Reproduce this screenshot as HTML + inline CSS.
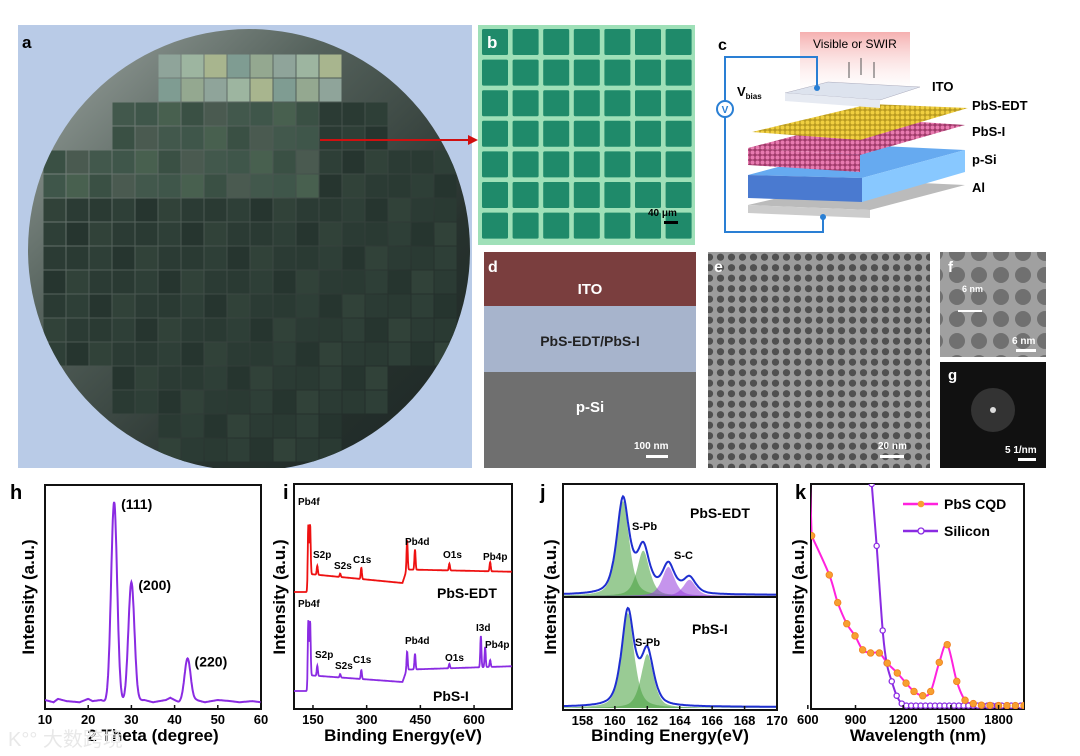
<!DOCTYPE html>
<html><head><meta charset="utf-8"><style>
body{margin:0;background:#fff;}
svg{display:block;font-family:"Liberation Sans",Arial,sans-serif;}
.b{font-weight:bold;}
</style></head><body>
<svg id="fig" width="1080" height="756" viewBox="0 0 1080 756">
<defs>
<clipPath id="wclip"><circle cx="249" cy="250" r="221"/></clipPath>
<linearGradient id="wgrad" x1="0" y1="0" x2="1" y2="1"><stop offset="0" stop-color="#a4aca8"/><stop offset="0.35" stop-color="#55625c"/><stop offset="0.7" stop-color="#27322e"/><stop offset="1" stop-color="#1c2624"/></linearGradient>
<pattern id="dots" width="11" height="10.5" patternUnits="userSpaceOnUse"><rect width="11" height="10.5" fill="#9c9c9c"/><circle cx="5.5" cy="5.2" r="3.6" fill="#505050"/></pattern>
<pattern id="dots2" width="22" height="22" patternUnits="userSpaceOnUse"><rect width="22" height="22" fill="#a0a0a0"/><circle cx="11" cy="11" r="8" fill="#707070"/></pattern>
<pattern id="qd1" width="5" height="5" patternUnits="userSpaceOnUse"><rect width="5" height="5" fill="#b89a20"/><circle cx="2.5" cy="2.5" r="2" fill="#f0cf40"/></pattern>
<pattern id="qd2" width="5" height="5" patternUnits="userSpaceOnUse"><rect width="5" height="5" fill="#a03a6a"/><circle cx="2.5" cy="2.5" r="2" fill="#e87ab0"/></pattern>
<linearGradient id="light" x1="0" y1="0" x2="0" y2="1"><stop offset="0" stop-color="#f5b0b0"/><stop offset="1" stop-color="#fde8e8" stop-opacity="0"/></linearGradient>
<clipPath id="ch"><rect x="45" y="485" width="216" height="224"/></clipPath>
<clipPath id="ck"><rect x="811" y="484" width="213" height="225"/></clipPath>
</defs>

<!-- panel a -->
<g>
<rect x="18" y="25" width="454" height="443" fill="#b9cbe7"/>
<g clip-path="url(#wclip)">
<rect x="20" y="25" width="460" height="443" fill="url(#wgrad)"/>
<g id="wgrid"></g>
</g>
<line x1="320" y1="140" x2="470" y2="140" stroke="#d01010" stroke-width="2"/>
<polygon points="478,140 468,135 468,145" fill="#d01010"/>
<text x="22" y="48" class="b" font-size="17">a</text>
</g>

<!-- panel b -->
<g>
<rect x="478" y="25" width="217" height="220" fill="#9fe0b8"/>
<g id="bgrid"></g>
<text x="487" y="48" class="b" font-size="17" fill="#fff">b</text>
<text x="648" y="216" font-size="10" class="b">40 μm</text>
<rect x="664" y="221" width="14" height="3" fill="#000"/>
</g>

<!-- panel c -->
<g>
<rect x="800" y="32" width="110" height="60" fill="url(#light)"/>
<text x="718" y="50" class="b" font-size="16">c</text>
<text x="813" y="48" font-size="12">Visible or SWIR</text>
<g stroke="#555" stroke-width="1"><line x1="849" y1="62" x2="849" y2="78"/><line x1="861" y1="58" x2="861" y2="75"/><line x1="874" y1="62" x2="874" y2="78"/></g>
<polygon points="748,205 870,210 965,185 855,180" fill="#bbb"/><polygon points="748,205 870,210 870,218 748,213" fill="#ccc"/>
<polygon points="748,175 862,178 965,150 860,145" fill="#66aaf0"/><polygon points="748,175 862,178 862,202 748,198" fill="#4a7ad0"/><polygon points="862,178 965,150 965,172 862,202" fill="#88c8ff"/>
<polygon points="748,148 860,155 965,125 862,118" fill="url(#qd2)"/><polygon points="748,148 860,155 860,172 748,165" fill="url(#qd2)"/>
<polygon points="752,132 860,140 968,108 870,104" fill="url(#qd1)"/>
<polygon points="785,93 880,100 920,87 828,82" fill="#dde3ee" stroke="#aab" stroke-width="0.5"/><polygon points="785,93 880,100 880,108 785,101" fill="#e6eaf2"/>
<g fill="none" stroke="#2a7fd4" stroke-width="2"><polyline points="817,88 817,57 725,57 725,232 823,232 823,218"/></g>
<circle cx="817" cy="88" r="3" fill="#2a7fd4"/><circle cx="823" cy="217" r="3" fill="#2a7fd4"/>
<circle cx="725" cy="109" r="8" fill="#fff" stroke="#2a7fd4" stroke-width="2"/>
<text x="725" y="113" text-anchor="middle" font-size="10" fill="#2a7fd4" class="b">V</text>
<text x="737" y="96" class="b" font-size="13">V<tspan font-size="8" dy="3">bias</tspan></text>
<text x="932" y="91" class="b" font-size="13">ITO</text>
<text x="972" y="110" class="b" font-size="13">PbS-EDT</text>
<text x="972" y="136" class="b" font-size="13">PbS-I</text>
<text x="972" y="164" class="b" font-size="13">p-Si</text>
<text x="972" y="192" class="b" font-size="13">Al</text>
</g>

<!-- panel d -->
<g>
<rect x="484" y="252" width="212" height="216" fill="#6f6f6f"/>
<rect x="484" y="252" width="212" height="56" fill="#7a3e3e"/>
<rect x="484" y="306" width="212" height="66" fill="#a7b4cc"/>
<text x="488" y="272" class="b" font-size="16" fill="#fff">d</text>
<text x="590" y="294" text-anchor="middle" class="b" font-size="15" fill="#fff">ITO</text>
<text x="590" y="346" text-anchor="middle" class="b" font-size="14" fill="#222">PbS-EDT/PbS-I</text>
<text x="590" y="412" text-anchor="middle" class="b" font-size="15" fill="#fff">p-Si</text>
<text x="634" y="449" class="b" font-size="10" fill="#fff">100 nm</text>
<rect x="646" y="455" width="22" height="3" fill="#fff"/>
</g>

<!-- panel e -->
<g>
<rect x="708" y="252" width="222" height="216" fill="url(#dots)"/>
<text x="714" y="272" class="b" font-size="16" fill="#fff">e</text>
<text x="878" y="449" class="b" font-size="10" fill="#fff">20 nm</text>
<rect x="880" y="455" width="24" height="3" fill="#fff"/>
</g>
<g>
<rect x="940" y="252" width="106" height="105" fill="url(#dots2)"/>
<text x="948" y="272" class="b" font-size="15" fill="#fff">f</text>
<text x="962" y="292" font-size="9" fill="#fff" class="b">6 nm</text>
<line x1="958" y1="311" x2="982" y2="311" stroke="#fff" stroke-width="2"/>
<text x="1012" y="344" class="b" font-size="10" fill="#fff">6 nm</text>
<rect x="1016" y="349" width="20" height="3" fill="#fff"/>
</g>
<g>
<rect x="940" y="362" width="106" height="106" fill="#111"/>
<circle cx="993" cy="410" r="22" fill="#333"/><circle cx="993" cy="410" r="3" fill="#ddd"/>
<text x="948" y="380" class="b" font-size="15" fill="#fff">g</text>
<text x="1005" y="453" class="b" font-size="10" fill="#fff">5 1/nm</text>
<rect x="1018" y="458" width="18" height="3" fill="#fff"/>
</g>

<g id="charts"></g>
</svg>
<script>
// ===== data: h (XRD) =====
const hTicks=[10,20,30,40,50,60];
const xrdPeakPos=[26,30,43];
const xrdPeakHeight=[0.89,0.53,0.19];
const xrdPeakLabels=['(111)','(200)','(220)'];
const xrdNoiseX=[10,12,13,15,18,20,21,23,24,28,33,35,38,39,41,45,47,50,53,55,58,60];
const xrdNoiseY=[0.04,0.03,0.045,0.035,0.03,0.045,0.035,0.04,0.03,0.03,0.04,0.03,0.04,0.05,0.03,0.04,0.03,0.04,0.035,0.03,0.035,0.03];
// ===== data: i (XPS survey) =====
const iTicks=[150,300,450,600];
const edtBgX=[97,134,140,400,412,706];
const edtBgY=[52,52,60,56,62,61];
const edtPeakPos=[137,142,162,226,285,413,435,531,645];
const edtPeakAmp=[26,22,4,1.5,5,13,9,3,4];
const iBgX=[97,134,140,400,412,706];
const iBgY=[8,8,15,12,17.5,19];
const iPeakPos=[137,142,162,226,285,413,435,531,619,631,645];
const iPeakAmp=[28,24,4.5,1.5,4,8,7,2,14,9,3];
const edtLabels=['Pb4f','S2p','S2s','C1s','Pb4d','O1s','Pb4p'];
const iLabels=['Pb4f','S2p','S2s','C1s','Pb4d','O1s','I3d','Pb4p'];
// ===== data: j (S 2p) =====
const jTicks=[158,160,162,164,166,168,170];
const jEdtGreenPos=[160.5,161.75];
const jEdtGreenAmp=[0.88,0.42];
const jEdtPurplePos=[163.3,164.6];
const jEdtPurpleAmp=[0.27,0.15];
const jIGreenPos=[160.8,162.0];
const jIGreenAmp=[0.88,0.5];
// ===== data: k (absorption) =====
const kTicks=[600,900,1200,1500,1800];
const cqdWl=[624,735,788,845,897,945,995,1050,1100,1163,1218,1268,1323,1373,1427,1477,1537,1589,1641,1692,1746,1800,1853,1906,1960];
const cqdVal=[0.77,0.596,0.473,0.379,0.325,0.263,0.249,0.249,0.204,0.16,0.115,0.078,0.059,0.078,0.207,0.286,0.123,0.039,0.024,0.017,0.016,0.015,0.015,0.015,0.015];
const siWl=[1002,1033,1071,1096,1128,1159,1191,1220,1250,1280,1310,1340,1370,1400,1430,1460,1490,1520,1550,1580,1610,1640,1670,1700,1730,1760,1790,1820,1850,1880,1910,1940,1960];
const siVal=[1.0,0.725,0.349,0.204,0.123,0.059,0.024,0.015,0.015,0.015,0.015,0.015,0.015,0.015,0.015,0.015,0.015,0.015,0.015,0.015,0.015,0.015,0.015,0.015,0.015,0.015,0.015,0.015,0.015,0.015,0.015,0.015,0.015];

const NS='http://www.w3.org/2000/svg';
const root=document.getElementById('charts');
function mk(tag,attrs,parent,txt){const e=document.createElementNS(NS,tag);for(const k in attrs)e.setAttribute(k,attrs[k]);if(txt!==undefined)e.textContent=txt;(parent||root).appendChild(e);return e;}
function interp(xs,ys,x){if(x<=xs[0])return ys[0];for(let i=1;i<xs.length;i++){if(x<=xs[i]){const t=(x-xs[i-1])/(xs[i]-xs[i-1]);return ys[i-1]+t*(ys[i]-ys[i-1]);}}return ys[ys.length-1];}
function gauss(x,p,a,s){return a*Math.exp(-0.5*((x-p)/s)**2);}
function lor(x,p,a,g){return a*g*g/((x-p)**2+g*g);}
function pv(x,p,a){return 0.6*lor(x,p,a,0.42)+0.4*gauss(x,p,a,0.42);}

function frame(x0,y0,w,h,name){const r=mk('rect',{x:x0,y:y0,width:w,height:h,fill:'none',stroke:'#111','stroke-width':2});}
function xTicks(ticks,fx,ybot,name){ticks.forEach(t=>{const x=fx(t);const l=mk('line',{x1:x,y1:ybot,x2:x,y2:ybot-4,stroke:'#111','stroke-width':1.5});const tx=mk('text',{x:x,y:ybot+15,'text-anchor':'middle','font-size':13,'font-weight':'bold'},root,String(t));});}
function ytitle(x,yc,name){const t=mk('text',{x:x,y:yc,'text-anchor':'middle','font-size':17,'font-weight':'bold',transform:`rotate(-90 ${x} ${yc})`},root,'Intensity (a.u.)');}
function xtitle(x,y,s,name){const t=mk('text',{x:x,y:y,'text-anchor':'middle','font-size':17,'font-weight':'bold'},root,s);}
function lbl(x,y,s,size,name,anchor){const t=mk('text',{x:x,y:y,'font-size':size,'font-weight':'bold','text-anchor':anchor||'start'},root,s);return t;}
function pathOf(pts){return 'M'+pts.map(p=>p[0].toFixed(1)+','+p[1].toFixed(1)).join('L');}

// ---- panel h ----
const xh=v=>45+(v-10)/50*216, yh=v=>709-v*225;
frame(45,485,216,224,'xrd-plot-frame');
let pts=[];for(let v=10;v<=60;v+=0.1){let y=interp(xrdNoiseX,xrdNoiseY,v);xrdPeakPos.forEach((p,i)=>y+=gauss(v,p,xrdPeakHeight[i],0.7));pts.push([xh(v),yh(y)]);}
let e=mk('path',{d:pathOf(pts),fill:'none',stroke:'#8a2be2','stroke-width':2,'clip-path':'url(#ch)'});


xrdPeakPos.forEach((p,i)=>{lbl(xh(p)+7,yh(xrdPeakHeight[i]+0.035)+8,xrdPeakLabels[i],14,'xrd-peak-label');});
xTicks(hTicks,xh,709,'xrd-x');
ytitle(34,597,'xrd-y-axis-title');
xtitle(153,741,'2 Theta (degree)','xrd-x-axis-title');
lbl(10,499,'h',20,'panel-label-h');

// ---- panel i ----
const xi=v=>294+(v-97)/(706-97)*218, yi=v=>709-v/100*225;
frame(294,484,218,225,'xps-survey-plot-frame');
function survey(bx,by,pp,pa,col,name){const p=[];for(let v=97;v<=706;v+=0.7){let y=interp(bx,by,v);pp.forEach((q,i)=>y+=gauss(v,q,pa[i],1.6));p.push([xi(v),yi(y)]);}const el=mk('path',{d:pathOf(p),fill:'none',stroke:col,'stroke-width':1.8});}
survey(edtBgX,edtBgY,edtPeakPos,edtPeakAmp,'#ee1111','xps-pbs-edt-line');
survey(iBgX,iBgY,iPeakPos,iPeakAmp,'#8a2be2','xps-pbs-i-line');
const edtLblPos=[[298,505],[313,558],[334,569],[353,563],[405,545],[443,558],[483,560]];
edtLabels.forEach((s,i)=>lbl(edtLblPos[i][0],edtLblPos[i][1],s,10,'xps-edt-peak-label'));
const iLblPos=[[298,607],[315,658],[335,669],[353,663],[405,644],[445,661],[476,631],[485,648]];
iLabels.forEach((s,i)=>lbl(iLblPos[i][0],iLblPos[i][1],s,10,'xps-i-peak-label'));
lbl(437,598,'PbS-EDT',14,'xps-edt-series-label');
lbl(433,701,'PbS-I',14,'xps-i-series-label');
xTicks(iTicks,xi,709,'xps-x');
ytitle(285,597,'xps-y-axis-title');
xtitle(403,741,'Binding Energy(eV)','xps-x-axis-title');
lbl(283,499,'i',20,'panel-label-i');

// ---- panel j ----
const xj=v=>563+(v-156.8)/(170-156.8)*214;
function jPanel(gp,ga,pp,pa,y0,name){const yj=v=>y0-v*108;
 const comps=[];gp.forEach((p,i)=>comps.push([p,ga[i],'rgba(70,160,60,0.55)','green']));pp.forEach((p,i)=>comps.push([p,pa[i],'rgba(150,60,220,0.55)','purple']));
 comps.forEach(c=>{const p=[[xj(156.8),yj(0)]];for(let v=156.8;v<=170;v+=0.05)p.push([xj(v),yj(pv(v,c[0],c[1]))]);p.push([xj(170),yj(0)]);const el=mk('path',{d:pathOf(p)+'Z',fill:c[2],stroke:'none'});});
 const p=[];for(let v=156.8;v<=170;v+=0.05){let y=0.01;comps.forEach(c=>y+=pv(v,c[0],c[1]));p.push([xj(v),yj(y)]);}
 const el=mk('path',{d:pathOf(p),fill:'none',stroke:'#1f2fd0','stroke-width':2});
}
jPanel(jEdtGreenPos,jEdtGreenAmp,jEdtPurplePos,jEdtPurpleAmp,596,'xps-s2p-edt');
jPanel(jIGreenPos,jIGreenAmp,[],[],708,'xps-s2p-i');
frame(563,484,214,113,'xps-s2p-edt-frame');
frame(563,597,214,113,'xps-s2p-i-frame');
lbl(690,518,'PbS-EDT',14,'s2p-edt-label');
lbl(632,530,'S-Pb',11,'s2p-edt-spb-label');
lbl(674,559,'S-C',11,'s2p-edt-sc-label');
lbl(692,634,'PbS-I',14,'s2p-i-label');
lbl(635,646,'S-Pb',11,'s2p-i-spb-label');
xTicks(jTicks,xj,710,'s2p-x');
ytitle(556,597,'s2p-y-axis-title');
xtitle(670,741,'Binding Energy(eV)','s2p-x-axis-title');
lbl(540,499,'j',20,'panel-label-j');

// ---- panel k ----
const xk=v=>811+(v-620)/1340*213, yk=v=>709-v*225;
frame(811,484,213,225,'absorption-plot-frame');
function smooth(xs,ys){const p=xs.map((x,i)=>[xk(x),yk(ys[i])]);let d='M'+p[0][0]+','+p[0][1];for(let i=0;i<p.length-1;i++){const p0=p[Math.max(0,i-1)],p1=p[i],p2=p[i+1],p3=p[Math.min(p.length-1,i+2)];d+=`C${p1[0]+(p2[0]-p0[0])/6},${p1[1]+(p2[1]-p0[1])/6} ${p2[0]-(p3[0]-p1[0])/6},${p2[1]-(p3[1]-p1[1])/6} ${p2[0]},${p2[1]}`;}return d;}
e=mk('path',{d:'M'+xk(600)+','+yk(1.3)+'L'+xk(cqdWl[0])+','+yk(cqdVal[0]),fill:'none',stroke:'#ff22dd','stroke-width':2,'clip-path':'url(#ck)'});


e=mk('path',{d:smooth(cqdWl,cqdVal),fill:'none',stroke:'#ff22dd','stroke-width':2,'clip-path':'url(#ck)'});


e=mk('path',{d:'M'+xk(985)+','+yk(1.2)+'L'+xk(siWl[0])+','+yk(siVal[0]),fill:'none',stroke:'#8a2be2','stroke-width':2,'clip-path':'url(#ck)'});


e=mk('path',{d:smooth(siWl,siVal),fill:'none',stroke:'#8a2be2','stroke-width':2,'clip-path':'url(#ck)'});


const kMarks=mk('g',{'clip-path':'url(#ck)'});
siWl.forEach((w,i)=>{const c=mk('circle',{cx:xk(w),cy:yk(siVal[i]),r:2.6,fill:'#fff',stroke:'#8a2be2','stroke-width':1.3},kMarks);});
cqdWl.forEach((w,i)=>{const c=mk('circle',{cx:xk(w),cy:yk(cqdVal[i]),r:3.3,fill:'#f7a030',stroke:'#f08020','stroke-width':0.8},kMarks);});
e=mk('line',{x1:903,y1:504,x2:938,y2:504,stroke:'#ff22dd','stroke-width':2.5});


e=mk('circle',{cx:921,cy:504,r:3.3,fill:'#f7a030'});


lbl(944,509,'PbS CQD',14,'legend-pbs-cqd-label');
e=mk('line',{x1:903,y1:531,x2:938,y2:531,stroke:'#8a2be2','stroke-width':2.5});


e=mk('circle',{cx:921,cy:531,r:3,fill:'#fff',stroke:'#8a2be2','stroke-width':1.3});


lbl(944,536,'Silicon',14,'legend-silicon-label');
xTicks(kTicks,xk,709,'abs-x');
ytitle(804,597,'abs-y-axis-title');
xtitle(918,741,'Wavelength (nm)','abs-x-axis-title');
lbl(795,499,'k',20,'panel-label-k');

e=mk('text',{x:8,y:746,'font-size':20,fill:'#e8e8e8','font-family':'"Liberation Sans","Noto Sans CJK SC",sans-serif'},root,'K°° 大数跨境');



// wafer grid (stepped outline)
const wg=document.getElementById('wgrid');
const rowStart=[5,5,3,3,0,0,0,0,0,0,0,0,0,3,3,5,5];
const rowEnd=[12,12,14,14,17,17,17,17,17,17,17,17,17,14,14,12,12];
const bright=['#8fa49a','#9db5a0','#a8b58e','#7f9c92','#94a890'];
const mid=['#3f564a','#48604f','#3a5044','#4a5a50','#42584c'];
const dark=['#2a3a33','#2e3f37','#26352f','#314239','#2b3b34'];
for(let r=0;r<17;r++)for(let c=rowStart[r];c<=rowEnd[r];c++){const x=43+c*23,y=54+r*24;const pal=r<2?bright:(r<6?mid:dark);const t=(r>=2&&r<6&&c>11)?dark[(r+c)%5]:pal[(r*3+c)%5];mk('rect',{x:x+0.5,y:y+0.5,width:22,height:23,fill:t},wg);}
// micrograph squares
const bg=document.getElementById('bgrid');
for(let r=0;r<7;r++)for(let c=0;c<7;c++){mk('rect',{x:482+c*30.6,y:29+r*30.6,width:26,height:26,rx:1.5,fill:'#1f8a6a'},bg);}
</script>
</body></html>
